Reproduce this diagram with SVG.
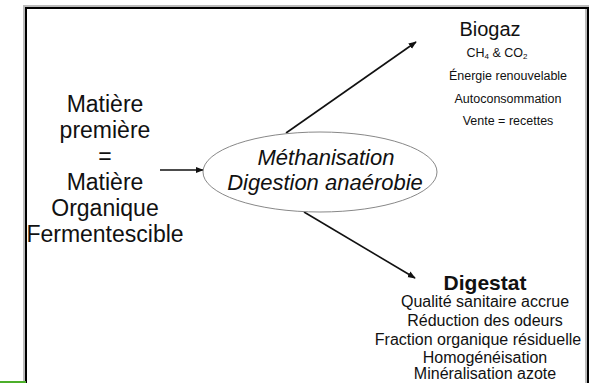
<svg xmlns="http://www.w3.org/2000/svg" width="590" height="383" viewBox="0 0 590 383">
<style>
text{font-family:"Comic Sans MS","Liberation Sans",sans-serif;fill:#111;text-anchor:middle}
.big{font-size:23px}
.ell{font-size:22px;font-style:italic}
.sm{font-size:12.5px}
.md{font-size:16px}
.conn{stroke:#111;stroke-width:1.6;fill:none;marker-end:url(#ah)}
</style>
<defs>
<marker id="ah" viewBox="0 0 10 10" refX="9" refY="5" markerWidth="5" markerHeight="5" orient="auto" markerUnits="strokeWidth">
<path d="M0,1 L10,5 L0,9 Z" fill="#111"/>
</marker>
</defs>
<rect width="590" height="383" fill="#fff"/>
<g id="frame">
<path d="M25,400 V7 H587 V400" fill="none" stroke="#bbb" stroke-width="4"/>
<path d="M26,400 V8 H588 V400" fill="none" stroke="#000" stroke-width="2"/>
<line x1="0" y1="382" x2="26" y2="382" stroke="#4caf2a" stroke-width="2"/>
</g>
<g id="connectors">
<line class="conn" x1="160" y1="170" x2="203" y2="170"/>
<line class="conn" x1="286" y1="133" x2="416" y2="42"/>
<line class="conn" x1="304" y1="212" x2="415" y2="278"/>
</g>
<g id="matiere">
<text class="big" x="105" y="112">Matière</text>
<text class="big" x="105" y="138">première</text>
<text class="big" x="105" y="164">=</text>
<text class="big" x="105" y="190">Matière</text>
<text class="big" x="105" y="216">Organique</text>
<text class="big" x="105" y="242">Fermentescible</text>
</g>
<g id="methanisation">
<ellipse cx="320" cy="172" rx="117" ry="40" fill="#fff" stroke="#888" stroke-width="1"/>
<text class="ell" x="326" y="165">Méthanisation</text>
<text class="ell" x="325" y="190">Digestion anaérobie</text>
</g>
<g id="biogaz">
<text x="490" y="36" style="font-size:20px">Biogaz</text>
<text class="sm" x="497" y="57">CH<tspan font-size="8" dy="2">4</tspan><tspan dy="-2"> &amp; CO</tspan><tspan font-size="8" dy="2">2</tspan></text>
<text class="sm" x="508" y="80">Énergie renouvelable</text>
<text class="sm" x="508" y="103">Autoconsommation</text>
<text class="sm" x="508" y="125">Vente = recettes</text>
</g>
<g id="digestat">
<text x="485" y="290" style="font-size:21px;font-weight:bold">Digestat</text>
<text class="md" x="485" y="307">Qualité sanitaire accrue</text>
<text class="md" x="485" y="326">Réduction des odeurs</text>
<text class="md" x="478" y="345">Fraction organique résiduelle</text>
<text class="md" x="485" y="363">Homogénéisation</text>
<text class="md" x="485" y="379">Minéralisation azote</text>
</g>
</svg>
